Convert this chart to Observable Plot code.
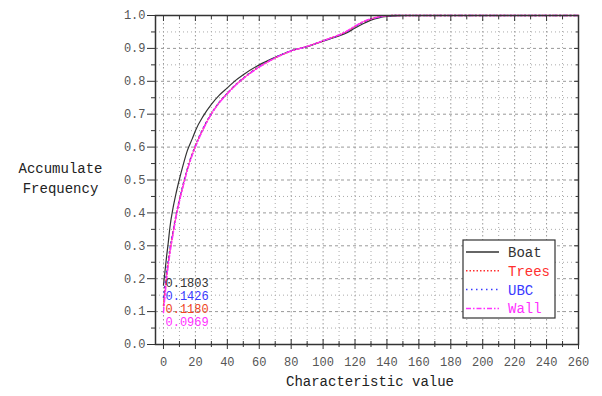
<!DOCTYPE html>
<html>
<head>
<meta charset="utf-8">
<script src="https://cdn.jsdelivr.net/npm/d3@7"></script>
<script src="https://cdn.jsdelivr.net/npm/@observablehq/plot@0.6"></script>
<style>
  html, body { margin: 0; padding: 0; background: #fff; }
  #chart { width: 602px; height: 396px; }
</style>
</head>
<body>
<div id="chart"></div>
<script>
// ---- data ----
const xValues = [0,1,2,3,4,6,8,10,12,15,18,20,25,30,35,40,45,50,60,70,80,90,100,105,110,115,120,125,130,135,140,145,150,160,180,200,220,240,260];
const boat  = [.1803,.225,.27,.31,.355,.415,.462,.503,.54,.59,.625,.65,.695,.73,.758,.78,.802,.82,.85,.873,.893,.905,.922,.93,.938,.948,.962,.975,.986,.993,.997,.999,1,1,1,1,1,1,1];
const trees = [.118,.165,.21,.248,.282,.34,.393,.438,.478,.532,.578,.603,.657,.701,.736,.763,.788,.809,.844,.871,.892,.906,.923,.932,.941,.952,.967,.98,.99,.996,.999,1,1,1,1,1,1,1,1];
const ubc   = [.1426,.183,.222,.257,.29,.345,.397,.441,.481,.535,.58,.605,.659,.702,.737,.764,.789,.81,.845,.872,.893,.906,.923,.931,.94,.951,.966,.979,.989,.995,.998,1,1,1,1,1,1,1,1];
const wall  = [.0969,.15,.2,.24,.275,.335,.39,.435,.475,.53,.575,.60,.655,.70,.735,.762,.787,.808,.843,.871,.892,.906,.923,.932,.941,.953,.968,.981,.99,.996,.999,1,1,1,1,1,1,1,1];
const seriesNames = ["Boat","Trees","UBC","Wall"];
const startLabels = ["0.1803","0.1426","0.1180","0.0969"];
const startValues = [0.1803, 0.1426, 0.1180, 0.0969];
const xMajorTicks = d3.range(0, 261, 20);
const xMinorTicks = d3.range(10, 261, 20);
const yMajorTicks = d3.range(0, 11).map(i => i / 10);
const yMinorTicks = d3.range(0, 10).map(i => i / 10 + 0.05);
const xTitle = "Characteristic value";
const yTitle = "Accumulate\nFrequency";

// ---- styles ----
const colors = {Boat: "#333333", Trees: "#ff3030", UBC: "#3a3aff", Wall: "#ff30ff"};
const textColors = {Boat: "#333333", Trees: "#ff3030", UBC: "#3a3aff", Wall: "#ff30ff"};
const dashes = {Boat: null, Trees: "1.5,2", UBC: "1.5,3.5", Wall: "5,2,1.5,2"};
const labelColors = ["#333333", "#3a3aff", "#ee4422", "#ff30ff"];
const labelDy = [-1.7, -1.1, 3.8, 9.9];
const FONT = "Liberation Mono, DejaVu Sans Mono, monospace";

const tables = {Boat: boat, Trees: trees, UBC: ubc, Wall: wall};
const rows = name => xValues.map((x, i) => ({x, y: tables[name][i], name}));

const drawOrder = ["Boat", "UBC", "Trees", "Wall"];
const lineMarks = drawOrder.map(name =>
  Plot.line(rows(name), {
    x: "x", y: "y", curve: "monotone-x",
    stroke: colors[name], strokeWidth: name === "Boat" ? 1.2 : 1.4,
    strokeDasharray: dashes[name]
  })
);

const labelMarks = startLabels.map((t, i) =>
  Plot.text([{x: 0, y: startValues[i], t}], {
    x: "x", y: "y", text: "t", textAnchor: "start", dx: 2, dy: labelDy[i],
    fill: labelColors[i], fontSize: 12
  })
);

const noText = () => "";
const chart = Plot.plot({
  width: 602,
  height: 396,
  marginLeft: 155,
  marginRight: 24,
  marginTop: 15,
  marginBottom: 52,
  style: {fontFamily: FONT, fontSize: "12px", background: "#fff", color: "#333"},
  x: {domain: [-5, 260]},
  y: {domain: [0, 1]},
  marks: [
    // grid
    Plot.gridX(xMinorTicks, {stroke: "#aaa", strokeOpacity: 1, strokeDasharray: "1,3"}),
    Plot.gridX(xMajorTicks, {stroke: "#999", strokeOpacity: 1, strokeDasharray: "1.5,2.5"}),
    Plot.gridY(yMinorTicks, {stroke: "#aaa", strokeOpacity: 1, strokeDasharray: "1,3"}),
    Plot.gridY(yMajorTicks.filter(d => d > 0 && d < 1), {stroke: "#999", strokeOpacity: 1, strokeDasharray: "3,3"}),
    // series
    ...lineMarks,
    ...labelMarks,
    Plot.frame({stroke: "#333", strokeWidth: 1.5}),
    // bottom ticks crossing frame
    Plot.axisX(xMajorTicks, {tickSize: 10, dy: -5, tickFormat: noText, label: null, stroke: "#333"}),
    Plot.axisX(xMinorTicks, {tickSize: 6, dy: -3, tickFormat: noText, label: null, stroke: "#333"}),
    // bottom labels
    Plot.axisX(xMajorTicks, {tickSize: 0, tickPadding: 13, label: null, fill: "#555", fontSize: 12}),
    // top inward ticks
    Plot.axisX(xMajorTicks, {anchor: "top", tickSize: 5, dy: 5, tickFormat: noText, label: null, stroke: "#333"}),
    Plot.axisX(xMinorTicks, {anchor: "top", tickSize: 3, dy: 3, tickFormat: noText, label: null, stroke: "#333"}),
    // left ticks + labels
    Plot.axisY(yMajorTicks, {tickSize: 8, tickPadding: 2, tickFormat: d => d.toFixed(1), label: null, stroke: "#333", fill: "#555", fontSize: 12}),
    Plot.axisY(yMinorTicks, {tickSize: 4, tickFormat: noText, label: null, stroke: "#333"}),
    // right inward ticks
    Plot.axisY(yMajorTicks, {anchor: "right", tickSize: 5, dx: -5, tickFormat: noText, label: null, stroke: "#333"}),
    Plot.axisY(yMinorTicks, {anchor: "right", tickSize: 3, dx: -3, tickFormat: noText, label: null, stroke: "#333"}),
    // titles
    Plot.text([xTitle], {frameAnchor: "bottom", dy: 41, dx: 3, fontSize: 14, fill: "#222"}),
    Plot.text([yTitle], {frameAnchor: "left", dx: -95, dy: -3, fontSize: 14, fill: "#222", textAnchor: "middle", lineHeight: 1.43})
  ]
});

document.getElementById("chart").appendChild(chart);

// ---- legend (drawn into the plot's SVG) ----
const svg = d3.select(chart);
const lg = svg.append("g").attr("transform", "translate(463,240)");
lg.append("rect").attr("width", 92).attr("height", 78)
  .attr("fill", "#fff").attr("stroke", "#333").attr("stroke-width", 1.2);
seriesNames.forEach((name, i) => {
  const yy = 12 + i * 18.8;
  lg.append("line").attr("x1", 3).attr("x2", 36).attr("y1", yy).attr("y2", yy)
    .attr("stroke", colors[name]).attr("stroke-width", name === "Boat" ? 1.3 : 1.5)
    .attr("stroke-dasharray", dashes[name]);
  lg.append("text").attr("x", 45).attr("y", yy).attr("dy", "0.35em")
    .attr("text-anchor", "start")
    .attr("fill", textColors[name]).attr("font-size", 14)
    .attr("font-family", FONT)
    .text(name);
});
</script>
</body>
</html>
